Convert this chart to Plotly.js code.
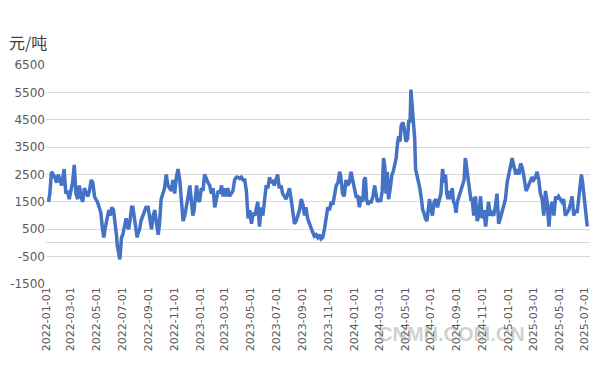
<!DOCTYPE html>
<html>
<head>
<meta charset="utf-8">
<script src="https://cdn.plot.ly/plotly-3.0.1.min.js"></script>
<style>html,body{margin:0;padding:0;background:#fff;}#chart{width:600px;height:372px;}</style>
</head>
<body>
<div id="chart"></div>
<script>
// Days since 2022-01-01 for each observation
const baseDate = '2022-01-01';
const dayOffsets = [
  6,9,13,17,21,25,29,33,37,41,43,47,51,55,59,63,67,71,75,79,83,87,91,95,99,103,107,111,115,118,122,126,130,134,137,141,145,149,152,156,160,164,167,169,172,175,179,182,186,190,193,196,199,203,206,209,213,216,219,222,225,229,233,237,
  242,246,250,254,258,262,266,269,273,277,281,285,289,293,297,301,305,309,313,317,321,325,329,333,337,341,344,348,351,354,357,360,364,368,372,376,380,384,388,392,396,400,404,408,412,416,420,424,427,431,435,439,443,447,451,455,459,463,467,471,475,479,483,487,491,495,
  498,502,506,510,514,518,522,526,530,533,537,541,545,549,553,557,561,565,569,573,577,581,585,589,593,597,601,605,609,613,616,620,624,628,632,636,640,644,648,652,656,660,664,668,672,676,680,684,688,692,696,699,703,707,711,715,719,723,727,731,735,739,743,747,751,
  754,757,760,763,767,771,775,779,782,786,790,793,797,800,803,806,809,812,816,820,823,827,830,833,836,839,842,846,849,853,857,860,863,865,868,871,874,876,879,882,886,890,893,896,899,903,906,909,912,916,920,924,928,932,936,940,944,947,950,953,956,959,963,966,969,972,975,979,983,987,991,994,997,1000,1004,1007,
  1010,1014,1018,1022,1026,1030,1034,1038,1042,1046,1049,1053,1057,1061,1065,1069,1073,1077,1081,1085,1089,1093,1097,1101,1105,1109,1111,1114,1117,1121,1125,1128,1132,1135,1138,1141,1144,1148,1152,1156,1160,1164,1168,1172,1176,1180,1184,1188,1192,1196,1200,1204,1208,1211,1215,1219,1223,1227,1231,1235,1239,1243,1247,1251,1255,1259,1263,1267,1269,1272,1276,1279,1281,1283
];
// Values (元/吨)
const values = [
  1500,1800,2600,2500,2400,2200,2500,2300,2100,2500,2700,1800,1900,1600,2000,2200,2850,1800,1600,2100,1700,1500,2000,1800,1700,1900,2300,2200,1700,1600,1500,1300,1100,500,200,600,900,1200,1000,1300,1200,800,300,-100,-300,-600,200,300,600,900,600,500,800,1300,1300,900,500,200,400,500,800,1000,1100,1300,
  1300,900,500,1000,1200,700,300,700,1600,1800,2000,2500,2100,2000,1900,2300,1800,2400,2700,2300,1500,800,1000,1300,1700,2100,1500,1000,1200,1800,2100,1600,1500,2000,1900,2500,2300,2200,2100,1800,2000,1300,1600,1900,1800,2100,1700,2000,1700,2000,1700,1800,1900,2300,2400,2400,2350,2400,2300,2300,1900,900,1200,700,1100,1000,
  1200,1500,600,1300,1000,1700,2100,2000,2400,2200,2300,2100,2300,2500,2000,2100,1800,1700,1600,1800,2000,1600,1200,700,800,1000,1200,1600,1400,1000,1300,900,700,500,400,250,300,200,300,150,200,500,900,1300,1200,1500,1400,1800,2100,2200,2600,2400,1800,1700,2300,2100,2200,2600,2300,2100,1700,1700,1300,1700,1500,
  2300,2400,1600,1400,1500,1500,1700,2100,1800,1500,1600,1500,1900,3100,2800,1800,2600,1600,2000,2500,2600,2900,3100,3600,3900,3700,4300,4400,4200,3700,3800,4500,4400,5600,4700,4400,3800,2700,2500,2300,2000,1600,1200,1100,900,800,1300,1600,1300,1000,1500,1600,1300,1600,1800,2700,2200,2500,1800,1600,1900,1600,2000,1500,1400,1100,1500,1700,1900,2000,2300,3100,2800,2400,2000,1600,
  1600,1000,1700,800,1000,1700,900,1200,600,1000,1500,1000,1100,1000,1300,1800,700,900,1100,1300,1600,2200,2500,2700,3100,2800,2600,2500,2700,2500,2900,2800,2500,2100,1900,2000,2100,2300,2400,2300,2400,2600,2300,1800,1600,1000,1900,1500,600,1300,1500,1000,1700,1600,1700,1600,1500,1600,1000,1100,1200,1400,1700,1000,1200,1100,1600,2000,2500,2200,1500,1000,900,600
];
const yTickVals = [-1500,-500,500,1500,2500,3500,4500,5500,6500];
const unitLabel = '元/吨';
const watermark = 'CNMN.COM.CN';

const baseMs = Date.parse(baseDate + 'T00:00:00Z');
const dates = dayOffsets.map(d => new Date(baseMs + d * 86400000).toISOString().slice(0, 10));

const gray = '#595959';
const trace = {
  type: 'scatter', mode: 'lines', x: dates, y: values,
  line: {color: '#4472C4', width: 3.5, shape: 'linear'},
  hoverinfo: 'skip'
};
const layout = {
  width: 600, height: 372,
  margin: {l: 46, r: 10, t: 65, b: 88},
  paper_bgcolor: '#ffffff', plot_bgcolor: '#ffffff',
  showlegend: false,
  font: {family: 'DejaVu Sans, sans-serif', color: gray},
  xaxis: {
    type: 'date', range: ['2022-01-01', '2025-07-13 12:00'],
    tickmode: 'linear', tick0: '2022-01-01', dtick: 'M2', tickformat: '%Y-%m-%d',
    tickangle: -90, tickfont: {size: 11, color: gray, family: 'DejaVu Sans, sans-serif'},
    showgrid: false, zeroline: false, showline: false, ticks: '', fixedrange: true
  },
  yaxis: {
    range: [-1500, 6500], tickmode: 'array', tickvals: yTickVals,
    ticktext: yTickVals.map(String),
    tickfont: {size: 12, color: gray, family: 'DejaVu Sans, sans-serif'},
    showgrid: true, gridcolor: '#d9d9d9', gridwidth: 1,
    zeroline: true, zerolinecolor: '#d9d9d9', zerolinewidth: 1,
    showline: false, ticks: '', fixedrange: true
  },
  annotations: [
    {text: unitLabel, xref: 'paper', yref: 'paper', x: -0.072, y: 1.105, xanchor: 'left', yanchor: 'middle',
     showarrow: false, font: {size: 16, color: '#404040', family: 'Noto Sans CJK SC, sans-serif'}},
    {text: '<b>' + watermark + '</b>', xref: 'paper', yref: 'paper', x: 0.745, y: -0.23, xanchor: 'center', yanchor: 'middle',
     showarrow: false, font: {size: 20, color: 'rgba(150,150,150,0.45)', family: 'Liberation Sans, Arial, sans-serif'}}
  ]
};
Plotly.newPlot('chart', [trace], layout, {staticPlot: true, displayModeBar: false});
</script>
</body>
</html>
